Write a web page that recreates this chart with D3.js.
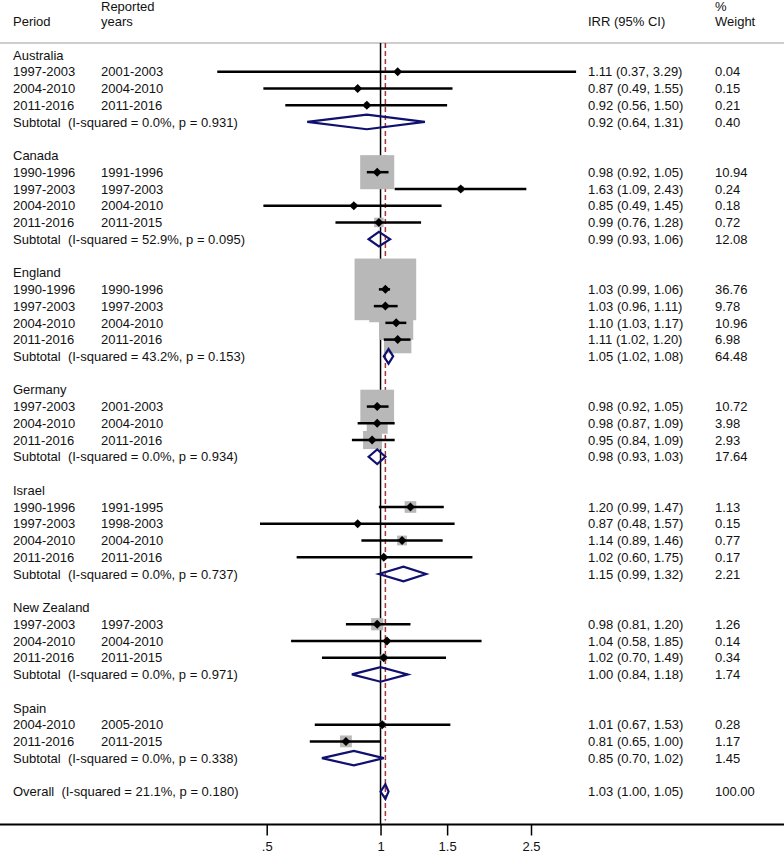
<!DOCTYPE html>
<html>
<head>
<meta charset="utf-8">
<script src="https://cdn.jsdelivr.net/npm/d3@7"></script>
<style>
  body { margin: 0; background: #fff; }
  text { font-family: "Liberation Sans", Arial, sans-serif; font-size: 13px; fill: #111; white-space: pre; }
</style>
</head>
<body>
<svg id="forest"></svg>
<script>
// study rows, one entry per study
const rowGroup = ["Australia","Australia","Australia",
  "Canada","Canada","Canada","Canada",
  "England","England","England","England",
  "Germany","Germany","Germany",
  "Israel","Israel","Israel","Israel",
  "New Zealand","New Zealand","New Zealand",
  "Spain","Spain"];
const rowPeriod = ["1997-2003","2004-2010","2011-2016",
  "1990-1996","1997-2003","2004-2010","2011-2016",
  "1990-1996","1997-2003","2004-2010","2011-2016",
  "1997-2003","2004-2010","2011-2016",
  "1990-1996","1997-2003","2004-2010","2011-2016",
  "1997-2003","2004-2010","2011-2016",
  "2004-2010","2011-2016"];
const rowReported = ["2001-2003","2004-2010","2011-2016",
  "1991-1996","1997-2003","2004-2010","2011-2015",
  "1990-1996","1997-2003","2004-2010","2011-2016",
  "2001-2003","2004-2010","2011-2016",
  "1991-1995","1998-2003","2004-2010","2011-2016",
  "1997-2003","2004-2010","2011-2015",
  "2005-2010","2011-2015"];
const rowIrr = [1.11,0.87,0.92, 0.98,1.63,0.85,0.99, 1.03,1.03,1.10,1.11, 0.98,0.98,0.95, 1.20,0.87,1.14,1.02, 0.98,1.04,1.02, 1.01,0.81];
const rowLo  = [0.37,0.49,0.56, 0.92,1.09,0.49,0.76, 0.99,0.96,1.03,1.02, 0.92,0.87,0.84, 0.99,0.48,0.89,0.60, 0.81,0.58,0.70, 0.67,0.65];
const rowHi  = [3.29,1.55,1.50, 1.05,2.43,1.45,1.28, 1.06,1.11,1.17,1.20, 1.05,1.09,1.09, 1.47,1.57,1.46,1.75, 1.20,1.85,1.49, 1.53,1.00];
const rowWeight = [0.04,0.15,0.21, 10.94,0.24,0.18,0.72, 36.76,9.78,10.96,6.98, 10.72,3.98,2.93, 1.13,0.15,0.77,0.17, 1.26,0.14,0.34, 0.28,1.17];

// subtotals per country
const groups = ["Australia","Canada","England","Germany","Israel","New Zealand","Spain"];
const subI2  = ["0.0%","52.9%","43.2%","0.0%","0.0%","0.0%","0.0%"];
const subP   = ["0.931","0.095","0.153","0.934","0.737","0.971","0.338"];
const subIrr = [0.92,0.99,1.05,0.98,1.15,1.00,0.85];
const subLo  = [0.64,0.93,1.02,0.93,0.99,0.84,0.70];
const subHi  = [1.31,1.06,1.08,1.03,1.32,1.18,1.02];
const subWeight = [0.40,12.08,64.48,17.64,2.21,1.74,1.45];

// overall
const overallI2 = "21.1%", overallP = "0.180";
const overallIrr = 1.03, overallLo = 1.00, overallHi = 1.05;

const tickValues = [0.5, 1, 1.5, 2.5];
const tickLabels = [".5", "1", "1.5", "2.5"];

const width = 784, height = 854;
const col = {period: 13, reported: 101, irr: 588, weight: 715};

const svg = d3.select("#forest").attr("width", width).attr("height", height);
svg.append("rect").attr("width", width).attr("height", height).attr("fill", "#fff");

const f2 = d3.format(".2f");
const ci = (e, l, h) => `${f2(e)} (${f2(l)}, ${f2(h)})`;

// build the list of rows
const rows = [];
groups.forEach((g, gi) => {
  rows.push({type: "group", label: g});
  rowGroup.forEach((rg, i) => {
    if (rg === g) rows.push({type: "study", period: rowPeriod[i], reported: rowReported[i],
      est: rowIrr[i], lo: rowLo[i], hi: rowHi[i], w: rowWeight[i]});
  });
  rows.push({type: "sub", label: `Subtotal  (I-squared = ${subI2[gi]}, p = ${subP[gi]})`,
    est: subIrr[gi], lo: subLo[gi], hi: subHi[gi], w: subWeight[gi]});
  rows.push({type: "blank"});
});
rows.push({type: "sub", label: `Overall  (I-squared = ${overallI2}, p = ${overallP})`,
  est: overallIrr, lo: overallLo, hi: overallHi, w: 100});
rows.forEach((r, i) => r.idx = i);

const y = d3.scaleLinear().domain([0, rows.length - 1]).range([55, 791.6]);
const x = d3.scaleLog().domain([0.5, 2.5]).range([266.7, 531]);

const topY = 43, axisY = 824.5;

// header
const hdr = svg.append("g");
hdr.append("text").attr("x", col.period).attr("y", y(-2)).attr("dy", "0.36em").text("Period");
hdr.append("text").attr("x", col.reported).attr("y", y(-3) + 2).attr("dy", "0.36em").text("Reported");
hdr.append("text").attr("x", col.reported).attr("y", y(-2)).attr("dy", "0.36em").text("years");
hdr.append("text").attr("x", col.irr).attr("y", y(-2)).attr("dy", "0.36em").text("IRR (95% CI)");
hdr.append("text").attr("x", col.weight).attr("y", y(-3) + 2).attr("dy", "0.36em").text("%");
hdr.append("text").attr("x", col.weight).attr("y", y(-2)).attr("dy", "0.36em").text("Weight");
svg.append("line").attr("x1", 0).attr("x2", width).attr("y1", topY).attr("y2", topY)
  .attr("stroke", "#bdbdbd").attr("stroke-width", 1.5);

// reference lines
svg.append("line").attr("x1", x(1)).attr("x2", x(1)).attr("y1", topY).attr("y2", axisY)
  .attr("stroke", "#000").attr("stroke-width", 1.5);
svg.append("line").attr("x1", x(overallIrr)).attr("x2", x(overallIrr)).attr("y1", topY).attr("y2", axisY - 4)
  .attr("stroke", "#a3373a").attr("stroke-width", 1.5).attr("stroke-dasharray", "5,3");

const studies = rows.filter(r => r.type === "study");
const subs = rows.filter(r => r.type === "sub");

// weight boxes
const side = w => 10 * Math.sqrt(w) + 1;
svg.append("g").selectAll("rect").data(studies).enter().append("rect")
  .attr("x", d => x(d.est) - side(d.w) / 2)
  .attr("y", d => y(d.idx) - side(d.w) / 2)
  .attr("width", d => side(d.w))
  .attr("height", d => side(d.w))
  .attr("fill", "#b8b8b8");

// CI lines
svg.append("g").selectAll("line").data(studies).enter().append("line")
  .attr("x1", d => x(d.lo)).attr("x2", d => x(d.hi))
  .attr("y1", d => y(d.idx)).attr("y2", d => y(d.idx))
  .attr("stroke", "#000").attr("stroke-width", 2.5);

// point markers
svg.append("g").selectAll("path").data(studies).enter().append("path")
  .attr("transform", d => `translate(${x(d.est)},${y(d.idx)})`)
  .attr("d", "M0,-4.5L4.5,0L0,4.5L-4.5,0Z")
  .attr("fill", "#000");

// pooled diamonds
svg.append("g").selectAll("path").data(subs).enter().append("path")
  .attr("d", d => {
    const cy = y(d.idx), h = 7.3;
    return `M${x(d.lo)},${cy}L${x(d.est)},${cy - h}L${x(d.hi)},${cy}L${x(d.est)},${cy + h}Z`;
  })
  .attr("fill", "none").attr("stroke", "#101070").attr("stroke-width", 2.2)
  .attr("stroke-linejoin", "miter");

// text columns
const txt = svg.append("g");
rows.forEach(r => {
  const yy = y(r.idx);
  if (r.type === "group") {
    txt.append("text").attr("x", col.period).attr("y", yy).attr("dy", "0.36em").text(r.label);
  } else if (r.type === "study") {
    txt.append("text").attr("x", col.period).attr("y", yy).attr("dy", "0.36em").text(r.period);
    txt.append("text").attr("x", col.reported).attr("y", yy).attr("dy", "0.36em").text(r.reported);
  } else if (r.type === "sub") {
    txt.append("text").attr("x", col.period).attr("y", yy).attr("dy", "0.36em").text(r.label);
  }
  if (r.type === "study" || r.type === "sub") {
    txt.append("text").attr("x", col.irr).attr("y", yy).attr("dy", "0.36em").text(ci(r.est, r.lo, r.hi));
    txt.append("text").attr("x", col.weight).attr("y", yy).attr("dy", "0.36em").text(f2(r.w));
  }
});

// x axis
const axis = svg.append("g").attr("transform", `translate(0,${axisY})`)
  .call(d3.axisBottom(x).tickValues(tickValues)
    .tickFormat((d, i) => tickLabels[i]).tickSize(11).tickPadding(6.5));
axis.select(".domain").remove();
axis.selectAll(".tick line").attr("stroke", "#000").attr("stroke-width", 1.5);
axis.selectAll("text").style("font-size", "13px").attr("fill", "#111");
svg.append("line").attr("x1", 0).attr("x2", width).attr("y1", axisY).attr("y2", axisY)
  .attr("stroke", "#000").attr("stroke-width", 2);
</script>
</body>
</html>
